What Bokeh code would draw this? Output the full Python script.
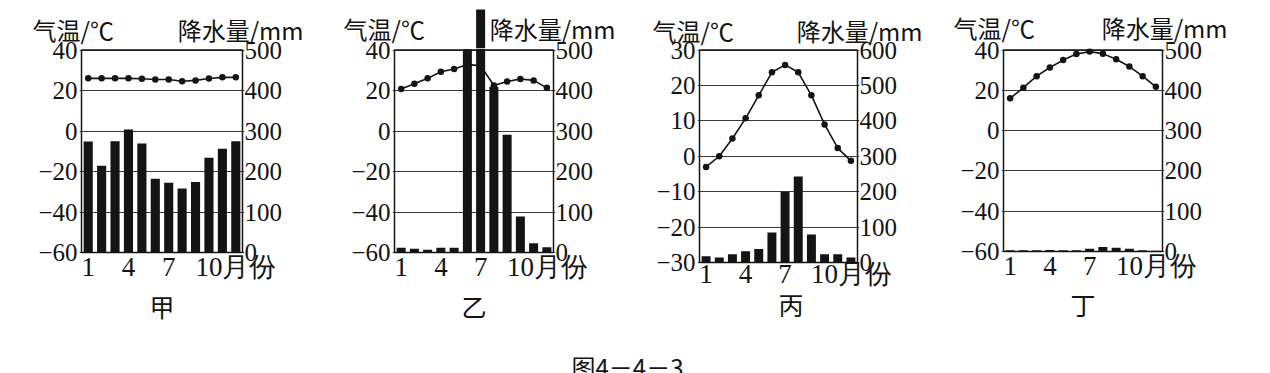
from bokeh.plotting import figure
from bokeh.models import Range1d, LinearAxis, FixedTicker, Label
from bokeh.layouts import row, column
from bokeh.embed import file_html
from bokeh.resources import INLINE

# ---------------- data ----------------
MONTHS = list(range(1, 13))
X_TICKS = [1, 4, 7, 10]

TEMP_JIA = [26.0, 26.0, 26.0, 26.0, 25.8, 25.4, 25.4, 24.6, 25.0, 25.9, 26.5, 26.5]
PREC_JIA = [274, 214, 275, 304, 269, 182, 172, 158, 174, 234, 256, 275]

TEMP_YI = [20.8, 23.3, 26.0, 29.3, 30.6, 32.8, 32.3, 22.5, 24.4, 25.7, 25.0, 21.3]
PREC_YI = [12, 9, 7, 12, 12, 502, 600, 409, 291, 89, 23, 13]

TEMP_BING = [-3.0, 0.0, 5.0, 10.7, 17.2, 23.7, 25.8, 23.7, 17.2, 9.0, 2.3, -1.3]
PREC_BING = [18, 14, 23, 32, 38, 85, 200, 243, 79, 23, 23, 14]

TEMP_DING = [16.0, 21.3, 27.0, 31.3, 35.0, 38.0, 39.2, 38.2, 35.4, 31.8, 27.0, 21.7]
PREC_DING = [3, 3, 3, 4, 3, 3, 7, 11, 9, 7, 3, 2]

T_TICKS_A = [-60, -40, -20, 0, 20, 40]
P_TICKS_A = [0, 100, 200, 300, 400, 500]
T_TICKS_C = [-30, -20, -10, 0, 10, 20, 30]
P_TICKS_C = [0, 100, 200, 300, 400, 500, 600]

LETTERS = ["甲", "乙", "\u3000丙", "丁"]
T_TITLE = "气温/℃"
P_TITLE = "降水量/mm"
X_UNIT = "月份"
CAPTION = "图4－4－3"

# ---------------- layout (page pixels, origin top-left) ----------------
PAGE_W, PAGE_H = 1270, 373
STRIP_H = 48          # top strip holding the axis titles (frame of main plots starts here)
OVERLAP = 20          # main plots start this much higher (transparent top border)
MAIN_BOTTOM = 356     # bottom of the main plots; caption below
SERIF = "Liberation Serif"
CJK = "Noto Sans CJK SC"
INK = "#141414"

PANELS = [
    dict(fx0=0, fw=320, box=(81, 241.5, 49.5, 252), tt=(32, 29), pt=(303, 29),
         std=-3, lstd=3),
    dict(fx0=320, fw=315, box=(394, 553, 49.5, 252), tt=(343, 28), pt=(615, 28),
         std=-3, lstd=3),
    dict(fx0=635, fw=305, box=(699, 857, 49.5, 262), tt=(652, 30), pt=(922, 30),
         std=-6, lstd=-6),
    dict(fx0=940, fw=330, box=(1003, 1162, 49.5, 251), tt=(953, 27), pt=(1227, 27),
         std=-3, lstd=2),
]


def bare(fig):
    fig.outline_line_color = None
    fig.background_fill_color = "white"
    fig.border_fill_color = "white"
    fig.grid.visible = False
    return fig


def make_panel(cfg, temps, precs, tticks, pticks, letter):
    fx0, fw = cfg["fx0"], cfg["fw"]
    bl, br, bt, bb = cfg["box"]
    fl, fr, ft, fb = bl - 2, br + 2, STRIP_H, bb + 2
    pxm = (br - bl) / 12.0
    tmin, tmax = tticks[0], tticks[-1]
    pmax = pticks[-1]
    pyt = (bb - bt) / float(tmax - tmin)
    pyp = (bb - bt) / float(pmax)

    def xd(px):
        return 0.5 + (px - bl) / pxm

    def td(py):
        return tmin + (bb - py) / pyt

    def pd(py):
        return (bb - py) / pyp

    # ---- main plot ----
    p = figure(width=fw, height=MAIN_BOTTOM - (STRIP_H - OVERLAP),
               x_range=Range1d(xd(fl), xd(fr)),
               y_range=Range1d(td(fb), td(ft)),
               min_border_left=int(round(fl - fx0)),
               min_border_right=int(round(fx0 + fw - fr)),
               min_border_top=OVERLAP,
               min_border_bottom=int(round(MAIN_BOTTOM - fb)),
               toolbar_location=None, tools="", output_backend="svg")
    p.extra_y_ranges = {"p": Range1d(pd(fb), pd(ft))}
    bare(p)
    p.border_fill_alpha = 0
    p.ygrid.visible = True
    p.ygrid.ticker = FixedTicker(ticks=tticks)
    p.ygrid.grid_line_color = "#3a3a3a"
    p.ygrid.grid_line_width = 1

    la = p.yaxis[0]
    la.ticker = FixedTicker(ticks=tticks)
    la.major_label_overrides = {t: ("−%d" % -t if t < 0 else "%d" % t) for t in tticks}
    la.major_label_standoff = 2
    ra = LinearAxis(y_range_name="p", ticker=FixedTicker(ticks=pticks))
    ra.major_label_standoff = 0
    p.add_layout(ra, "right")
    xa = p.xaxis[0]
    xa.ticker = FixedTicker(ticks=X_TICKS)
    xa.major_label_overrides = {10: "\u3000\u300010" + X_UNIT}
    xa.major_label_standoff = cfg["std"]
    xa.major_label_text_font_size = "27px"
    xa.axis_label = letter
    xa.axis_label_text_font = CJK
    xa.axis_label_text_font_size = "25px"
    xa.axis_label_text_font_style = "normal"
    xa.axis_label_text_color = INK
    xa.axis_label_standoff = cfg["lstd"]

    for ax in (la, ra, xa):
        ax.axis_line_color = None
        ax.major_tick_line_color = None
        ax.minor_tick_line_color = None
        ax.major_tick_out = 0
        ax.major_tick_in = 0
        ax.minor_tick_out = 0
        ax.minor_tick_in = 0
        ax.major_label_text_font = SERIF
        ax.major_label_text_color = INK
    la.major_label_text_font_size = "25px"
    ra.major_label_text_font_size = "25px"

    p.vbar(x=MONTHS, top=precs, bottom=0, width=0.68, y_range_name="p",
           fill_color=INK, line_color=None)
    p.line(MONTHS, temps, line_color=INK, line_width=1.6)
    p.scatter(MONTHS, temps, size=6.5, fill_color=INK, line_color=None)
    p.line([0.5, 0.5, 12.5, 12.5, 0.5], [tmin, tmax, tmax, tmin, tmin],
           line_color=INK, line_width=1.5)

    # ---- top strip: axis titles + continuation of tall bars ----
    s = figure(width=fw, height=STRIP_H,
               x_range=Range1d(xd(fx0), xd(fx0 + fw)),
               y_range=Range1d(pd(STRIP_H), pd(0)),
               min_border_left=0, min_border_right=0, min_border_top=0, min_border_bottom=0,
               x_axis_location=None, y_axis_location=None,
               toolbar_location=None, tools="", output_backend="svg")
    bare(s)
    s.vbar(x=MONTHS, top=precs, bottom=0, width=0.68, fill_color=INK, line_color=None)
    s.add_layout(Label(x=xd(cfg["tt"][0]), y=pd(cfg["tt"][1]), text=T_TITLE,
                       text_font=CJK, text_font_size="24px", text_align="left",
                       text_baseline="middle", text_color=INK))
    s.add_layout(Label(x=xd(cfg["pt"][0]), y=pd(cfg["pt"][1]), text=P_TITLE,
                       text_font=CJK, text_font_size="24px", text_align="right",
                       text_baseline="middle", text_color=INK))
    return s, p


made = [
    make_panel(PANELS[0], TEMP_JIA, PREC_JIA, T_TICKS_A, P_TICKS_A, LETTERS[0]),
    make_panel(PANELS[1], TEMP_YI, PREC_YI, T_TICKS_A, P_TICKS_A, LETTERS[1]),
    make_panel(PANELS[2], TEMP_BING, PREC_BING, T_TICKS_C, P_TICKS_C, LETTERS[2]),
    make_panel(PANELS[3], TEMP_DING, PREC_DING, T_TICKS_A, P_TICKS_A, LETTERS[3]),
]
strips = [m[0] for m in made]
# each main plot wrapped in its own column so that the row does not align their frames
mains = [column(m[1], spacing=0) for m in made]

# ---- bottom strip: caption ----
BOT_H = PAGE_H - MAIN_BOTTOM
bot = figure(width=PAGE_W, height=BOT_H, x_range=Range1d(0, PAGE_W), y_range=Range1d(0, BOT_H),
             min_border_left=0, min_border_right=0, min_border_top=0, min_border_bottom=0,
             x_axis_location=None, y_axis_location=None,
             toolbar_location=None, tools="", output_backend="svg")
bare(bot)
bot.border_fill_alpha = 0
bot.background_fill_alpha = 0
bot.add_layout(Label(x=627, y=PAGE_H - 348, text=CAPTION, text_font=CJK,
                     text_font_size="24px", text_align="center", text_baseline="top",
                     text_color=INK))

layout = column(row(*strips, spacing=0),
                row(*mains, spacing=0, margin=(-OVERLAP, 0, 0, 0)),
                bot, spacing=0)

with open("out.html", "w") as f:
    f.write(file_html(layout, INLINE))
